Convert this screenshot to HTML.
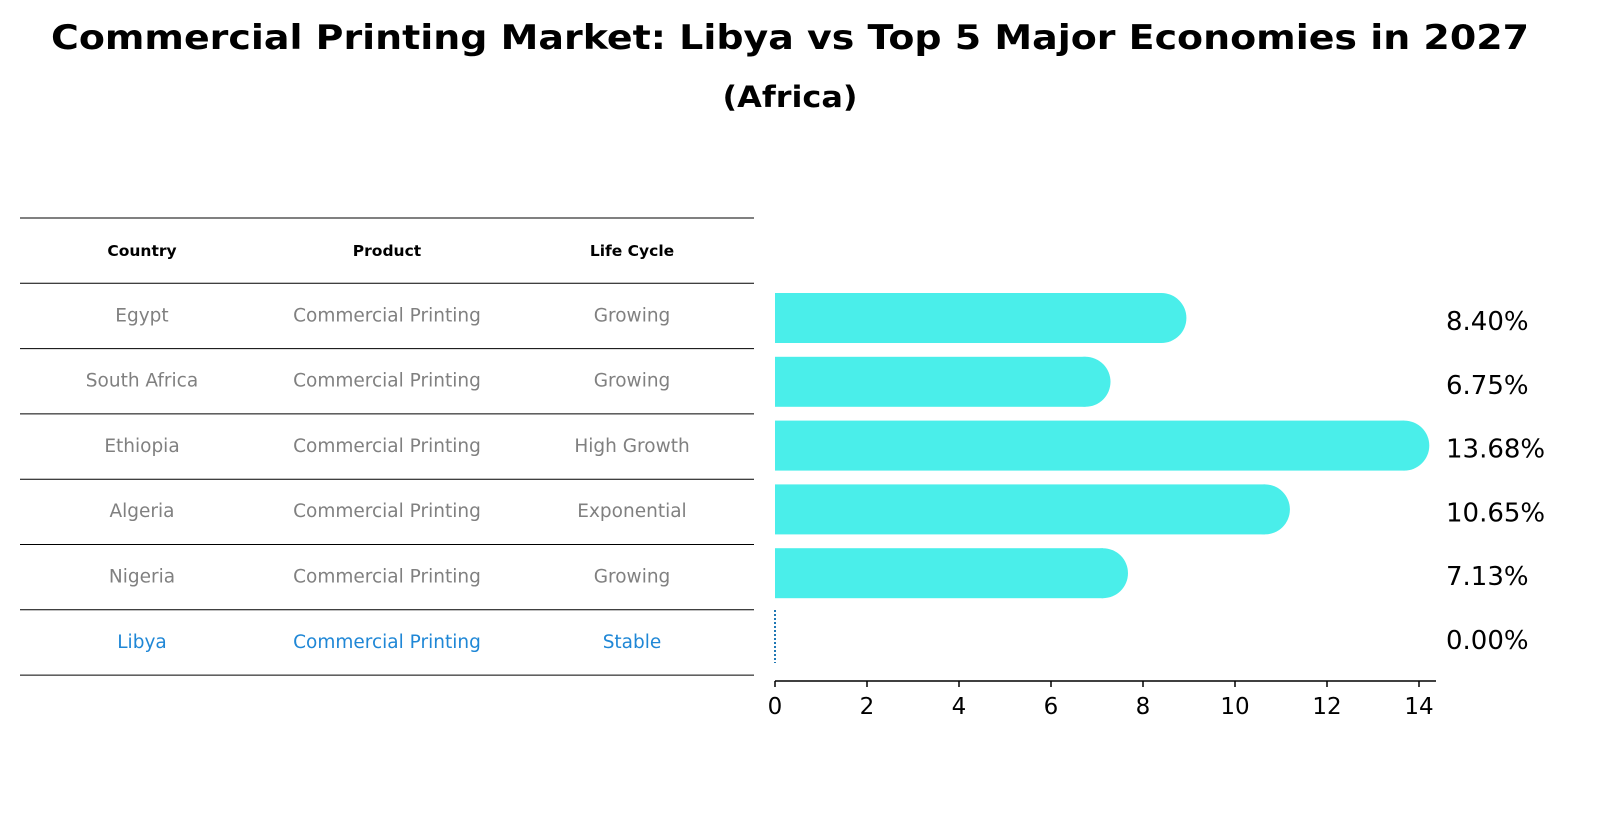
<!DOCTYPE html>
<html><head><meta charset="utf-8"><style>
body{margin:0;background:#fff;}
svg text{font-family:"DejaVu Sans","Liberation Sans",sans-serif;}
</style></head><body>
<svg width="1604" height="823" xmlns="http://www.w3.org/2000/svg">
<text x="790" y="49" text-anchor="middle" font-size="34" font-weight="bold" textLength="1478" lengthAdjust="spacingAndGlyphs">Commercial Printing Market: Libya vs Top 5 Major Economies in 2027</text>
<text x="790" y="107" text-anchor="middle" font-size="29" font-weight="bold" textLength="135" lengthAdjust="spacingAndGlyphs">(Africa)</text>
<g id="table"></g>
<g id="bars"></g>
</svg>
<script>
const countries=["Egypt","South Africa","Ethiopia","Algeria","Nigeria","Libya"];
const products=["Commercial Printing","Commercial Printing","Commercial Printing","Commercial Printing","Commercial Printing","Commercial Printing"];
const lifecycles=["Growing","Growing","High Growth","Exponential","Growing","Stable"];
const values=[8.40,6.75,13.68,10.65,7.13,0.00];
const ticks=[0,2,4,6,8,10,12,14];
const NS="http://www.w3.org/2000/svg";
function mk(t,a,p){const e=document.createElementNS(NS,t);for(const k in a)e.setAttribute(k,a[k]);p.appendChild(e);return e;}
const tb=document.getElementById('table');
const rowY=i=>218+(i+1)*65.3;
const colX=[142,387,632];
for(let i=0;i<=countries.length+1;i++){const y=i==0?218:rowY(i-1);
const l=mk('line',{x1:20,x2:754,y1:y,y2:y,stroke:'#000','stroke-width':1},tb);

}
["Country","Product","Life Cycle"].forEach((h,j)=>{const t=mk('text',{x:colX[j],y:256,'text-anchor':'middle','font-size':15.5,'font-weight':'bold'},tb);t.textContent=h;

});
countries.forEach((c,i)=>{const y=rowY(i)+38;const col=c==="Libya"?"#1f87d6":"#808080";
[c,products[i],lifecycles[i]].forEach((v,j)=>{const t=mk('text',{x:colX[j],y:y,'text-anchor':'middle','font-size':18.5,fill:col},tb);t.textContent=v;

});});
const bg=document.getElementById('bars');
const x0=775,pxu=46;const xs=v=>x0+v*pxu;
const cy=i=>318+i*63.8;const bh=50;
values.forEach((v,i)=>{const y=cy(i);
if(v>0){const r=mk('rect',{x:x0,y:y-bh/2,width:xs(v)-x0,height:bh,fill:'#4aeeea'},bg);


const c=mk('circle',{cx:xs(v),cy:y,r:bh/2,fill:'#4aeeea'},bg);

}
else{const l=mk('line',{x1:xs(v),x2:xs(v),y1:y-27,y2:y+26,stroke:'#1f77b4','stroke-width':2,'stroke-dasharray':'2,2'},bg);

}
const t=mk('text',{x:1446,y:y+12,'font-size':26},bg);t.textContent=v.toFixed(2)+'%';

});
const ax=mk('line',{x1:x0,x2:1436,y1:681,y2:681,stroke:'#000','stroke-width':1.5},bg);


ticks.forEach(v=>{const l=mk('line',{x1:xs(v),x2:xs(v),y1:681,y2:687,stroke:'#000','stroke-width':1.5},bg);


const t=mk('text',{x:xs(v),y:714,'text-anchor':'middle','font-size':23},bg);t.textContent=v;

});
</script>
</body></html>
